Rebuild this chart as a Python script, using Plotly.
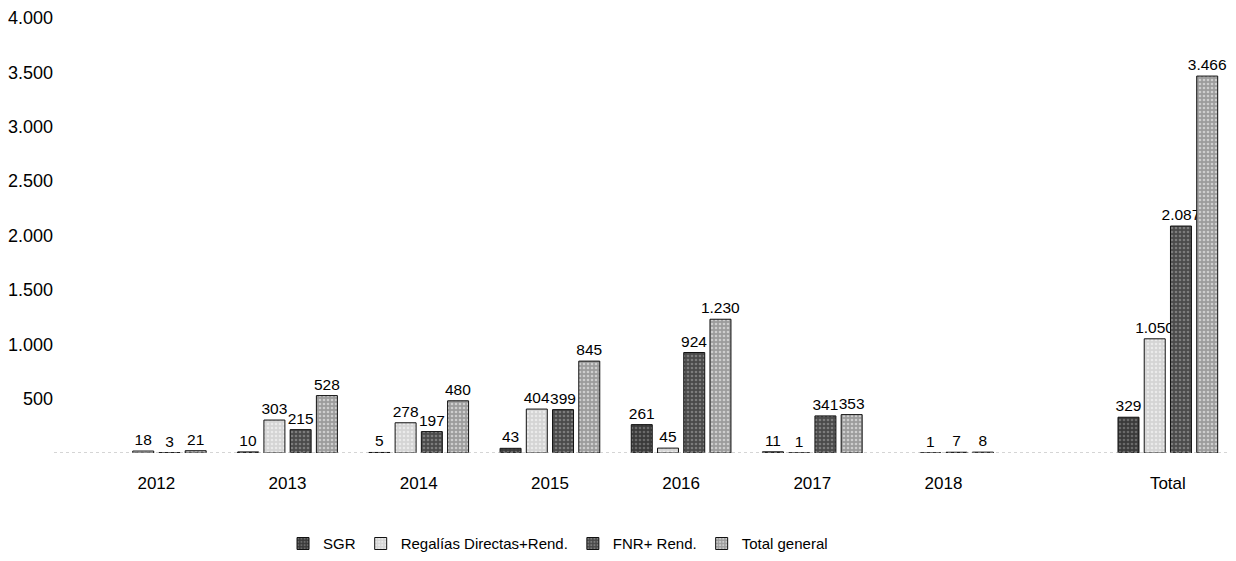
import plotly.graph_objects as go

# categories and series values
categorias = ['2012', '2013', '2014', '2015', '2016', '2017', '2018', 'Total']
sgr = [None, 10, 5, 43, 261, 11, None, 329]
regalias = [18, 303, 278, 404, 45, 1, 1, 1050]
fnr = [3, 215, 197, 399, 924, 341, 7, 2087]
total_general = [21, 528, 480, 845, 1230, 353, 8, 3466]
y_ticks = [500, 1000, 1500, 2000, 2500, 3000, 3500, 4000]

# Total group sits a bit further right than the yearly groups
xpos = [0, 1, 2, 3, 4, 5, 6, 7.71]

series = [
    ('SGR', sgr, '#3a3a3a', '#9a9a9a'),
    ('Regalías Directas+Rend.', regalias, '#d4d4d4', '#ffffff'),
    ('FNR+ Rend.', fnr, '#4a4a4a', '#b0b0b0'),
    ('Total general', total_general, '#9c9c9c', '#ffffff'),
]

fig = go.Figure()
for name, vals, col, dots in series:
    fig.add_trace(go.Bar(
        x=xpos, y=vals, name=name,
        marker=dict(
            color=col,
            line=dict(color='#111111', width=1),
            pattern=dict(shape='.', fgcolor=dots, size=4, solidity=0.35),
        ),
        texttemplate='%{y:,}', textposition='outside', cliponaxis=False,
        constraintext='none',
        textfont=dict(size=15.5, color='black'),
    ))

# faint dotted baseline
fig.add_shape(type='line', xref='paper', x0=0, x1=1, yref='y', y0=0, y1=0,
              line=dict(color='#aaaaaa', width=1, dash='dot'))

fig.update_layout(
    width=1236, height=561,
    paper_bgcolor='white', plot_bgcolor='white',
    font=dict(family='Liberation Sans, Arial, sans-serif', color='black'),
    separators=',.',
    barmode='group', bargap=0.2, bargroupgap=0.2,
    margin=dict(l=46, r=4, t=10, b=116),
    showlegend=True,
    legend=dict(orientation='h', xref='container', x=0.445, xanchor='center',
                yref='container', y=0.045, yanchor='middle',
                font=dict(size=15), itemwidth=30, traceorder='normal'),
)
fig.update_xaxes(
    tickmode='array', tickvals=xpos, ticktext=categorias,
    range=[-0.78, 8.26], showgrid=False, zeroline=False, showline=False,
    tickfont=dict(size=17), ticklabelstandoff=18,
)
fig.update_yaxes(
    range=[0, 4000], tickvals=y_ticks, tickformat=',',
    showgrid=False, zeroline=False, showline=False, automargin=False,
    tickfont=dict(size=18),
)

fig.write_html('out.html')
